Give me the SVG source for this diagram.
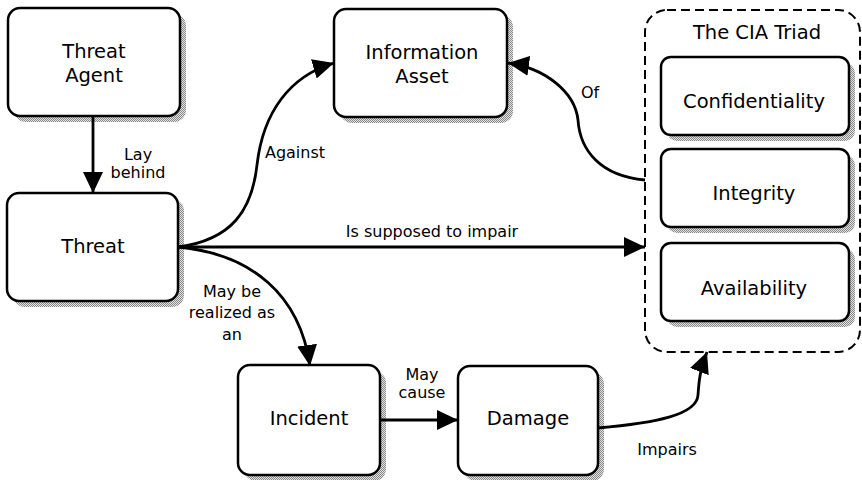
<svg xmlns="http://www.w3.org/2000/svg" width="862" height="480" viewBox="0 0 862 480">
<defs>
<pattern id="dots" width="2" height="2" patternUnits="userSpaceOnUse">
<rect width="2" height="2" fill="#e0e0e0"/>
<rect width="1" height="1" fill="#8a8a8a"/>
<rect x="1" y="1" width="1" height="1" fill="#8a8a8a"/>
</pattern>
<marker id="arr" markerUnits="userSpaceOnUse" markerWidth="24" markerHeight="22" refX="21" refY="10" orient="auto">
<path d="M0,0 L21,10 L0,20 z" fill="#000"/>
</marker>
<style>
.box{fill:#fff;stroke:#000;stroke-width:2.5}
.sh{fill:url(#dots)}
.nl{font-family:"DejaVu Sans",sans-serif;font-size:19.5px;text-anchor:middle;fill:#000}
.el{font-family:"DejaVu Sans",sans-serif;font-size:16px;text-anchor:middle;fill:#000}
.c{fill:none;stroke:#000;stroke-width:2.8}
</style>
</defs>
<rect width="862" height="480" fill="#fff"/>

<g id="cia-triad">
<rect x="645" y="10" width="215" height="342" rx="22" fill="none" stroke="#000" stroke-width="2" stroke-dasharray="9 5"/>
<text class="nl" x="757" y="39">The CIA Triad</text>
</g>

<g id="threat-agent">
<rect class="sh" x="14" y="14" width="172" height="108" rx="12"/>
<rect class="box" x="8" y="8" width="172" height="108" rx="12"/>
<text class="nl" x="94" y="58">Threat</text>
<text class="nl" x="94" y="82">Agent</text>
</g>

<g id="threat">
<rect class="sh" x="13" y="199" width="171" height="108" rx="12"/>
<rect class="box" x="7" y="193" width="171" height="108" rx="12"/>
<text class="nl" x="93" y="253">Threat</text>
</g>

<g id="information-asset">
<rect class="sh" x="340" y="15" width="173" height="108" rx="12"/>
<rect class="box" x="334" y="9" width="173" height="108" rx="12"/>
<text class="nl" x="422" y="59">Information</text>
<text class="nl" x="422" y="83">Asset</text>
</g>

<g id="incident">
<rect class="sh" x="244" y="371" width="142" height="110" rx="12"/>
<rect class="box" x="238" y="365" width="142" height="110" rx="12"/>
<text class="nl" x="309" y="425">Incident</text>
</g>

<g id="damage">
<rect class="sh" x="464" y="372" width="140" height="109" rx="12"/>
<rect class="box" x="458" y="366" width="140" height="109" rx="12"/>
<text class="nl" x="528" y="425">Damage</text>
</g>

<g id="confidentiality">
<rect class="sh" x="667" y="63" width="188" height="78" rx="10"/>
<rect class="box" x="661" y="57" width="188" height="78" rx="10"/>
<text class="nl" x="754" y="108">Confidentiality</text>
</g>

<g id="integrity">
<rect class="sh" x="667" y="155" width="188" height="78" rx="10"/>
<rect class="box" x="661" y="149" width="188" height="78" rx="10"/>
<text class="nl" x="754" y="200">Integrity</text>
</g>

<g id="availability">
<rect class="sh" x="667" y="249" width="188" height="78" rx="10"/>
<rect class="box" x="661" y="243" width="188" height="78" rx="10"/>
<text class="nl" x="754" y="295">Availability</text>
</g>

<g id="connectors">
<path class="c" d="M93,116 L93,193" marker-end="url(#arr)"/>
<path class="c" d="M178,247 C232,240 252,210 257,165 C263,112 290,76 334,63" marker-end="url(#arr)"/>
<path class="c" d="M178,247 L645,247" marker-end="url(#arr)"/>
<path class="c" d="M178,247 C252,254 300,295 310,366" marker-end="url(#arr)"/>
<path class="c" d="M380,420 L458,420" marker-end="url(#arr)"/>
<path class="c" d="M598,428 C655,423 697,415 698,395 C699,380 700,370 707,352" marker-end="url(#arr)"/>
<path class="c" d="M645,180 C600,176 580,150 578,120 C575,92 545,68 508,63" marker-end="url(#arr)"/>
</g>

<g id="labels">
<text class="el" x="138" y="160">Lay</text>
<text class="el" x="138" y="178">behind</text>
<text class="el" x="295" y="158">Against</text>
<text class="el" x="590" y="98">Of</text>
<text class="el" x="432" y="237">Is supposed to impair</text>
<text class="el" x="232" y="297">May be</text>
<text class="el" x="232" y="318">realized as</text>
<text class="el" x="232" y="340">an</text>
<text class="el" x="422" y="380">May</text>
<text class="el" x="422" y="398">cause</text>
<text class="el" x="667" y="455">Impairs</text>
</g>
</svg>
